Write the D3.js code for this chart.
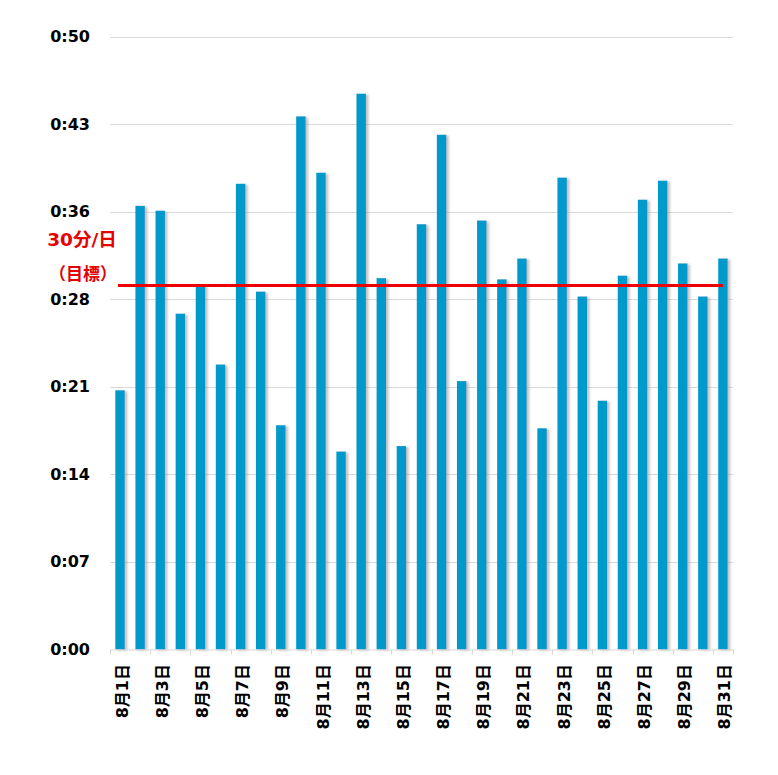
<!DOCTYPE html>
<html>
<head>
<meta charset="utf-8">
<script src="https://cdn.jsdelivr.net/npm/d3@7"></script>
<style>
  html, body { margin: 0; padding: 0; background: #fff; }
  svg { display: block; font-family: "DejaVu Sans", "Noto Sans CJK JP", sans-serif; }
</style>
</head>
<body>
<svg id="chart" width="778" height="775"></svg>
<script>
// Data
const days = d3.range(1, 32).map(d => "8月" + d + "日");
const minutes = [21.15, 36.2, 35.8, 27.4, 29.7, 23.25, 38.0, 29.2, 18.3, 43.5,
                 38.9, 16.15, 45.35, 30.3, 16.6, 34.7, 42.0, 21.9, 35.0, 30.2,
                 31.9, 18.05, 38.5, 28.8, 20.3, 30.5, 36.7, 38.25, 31.5, 28.8, 31.9];
const targetMinutes = 29.7;
const yTickValues = d3.range(0, 8).map(i => i * 50 / 7);
const yTickLabels = ["0:00", "0:07", "0:14", "0:21", "0:28", "0:36", "0:43", "0:50"];
const xLabelDays = days.filter((d, i) => i % 2 === 0);
const targetLabel = ["30分/日", "（目標）"];

const svg = d3.select("#chart");
const mLeft = 110, mRight = 733, mTop = 36.7, mBottom = 649.5;

const x = d3.scaleBand().domain(days).range([mLeft, mRight]).paddingInner(0.53).paddingOuter(0.265);
const xc = d => x(d) + x.bandwidth() / 2;
const y = d3.scaleLinear().domain([0, 50]).range([mBottom, mTop]);

// shadow filter
const defs = svg.append("defs");
const f = defs.append("filter").attr("id", "shadow").attr("x", "-50%").attr("y", "-5%").attr("width", "200%").attr("height", "110%");
f.append("feDropShadow").attr("dx", 2.5).attr("dy", 1).attr("stdDeviation", 1)
  .attr("flood-color", "#999999").attr("flood-opacity", 0.6);

// gridlines
svg.append("g").selectAll("line").data(yTickValues.slice(1)).join("line")
  .attr("x1", mLeft).attr("x2", mRight)
  .attr("y1", d => Math.round(y(d)) + 0.5).attr("y2", d => Math.round(y(d)) + 0.5)
  .attr("stroke", "#d9d9d9").attr("stroke-width", 1);

// y labels
svg.append("g").selectAll("text").data(yTickValues).join("text")
  .attr("x", 90).attr("y", d => y(d))
  .attr("text-anchor", "end").attr("dominant-baseline", "central")
  .attr("font-size", 16).attr("font-weight", "bold").attr("fill", "#000")
  .text((d, i) => yTickLabels[i]);

// bars
svg.append("g").selectAll("rect").data(minutes).join("rect")
  .attr("x", (d, i) => x(days[i]))
  .attr("y", d => y(d))
  .attr("width", x.bandwidth())
  .attr("height", d => y(0) - y(d))
  .attr("fill", "#0099cb")
  .attr("filter", "url(#shadow)");

// x axis line and ticks
const axisG = svg.append("g");
axisG.append("line").attr("x1", mLeft).attr("x2", mRight)
  .attr("y1", mBottom + 0.5).attr("y2", mBottom + 0.5)
  .attr("stroke", "#d9d9d9");
const tickPos = d3.range(0, 17).map(i => Math.min(mLeft + i * 2 * x.step(), mRight));
axisG.selectAll("line.tk").data(tickPos).join("line").attr("class", "tk")
  .attr("x1", d => Math.round(d) + 0.5).attr("x2", d => Math.round(d) + 0.5)
  .attr("y1", mBottom).attr("y2", mBottom + 5)
  .attr("stroke", "#d9d9d9");

// x labels
svg.append("g").selectAll("text").data(xLabelDays).join("text")
  .attr("transform", d => `translate(${xc(d) + 2},664) rotate(-90)`)
  .attr("text-anchor", "end").attr("dominant-baseline", "central")
  .attr("font-size", 16).attr("font-weight", "bold").attr("fill", "#000")
  .text(d => d);

// target line
svg.append("line")
  .attr("x1", xc(days[0]) - 2).attr("x2", xc(days[30]))
  .attr("y1", y(targetMinutes)).attr("y2", y(targetMinutes))
  .attr("stroke", "#ee0000").attr("stroke-width", 3);

// target label
svg.append("g").selectAll("text").data(targetLabel).join("text")
  .attr("x", (d, i) => i === 0 ? 82 : 83)
  .attr("y", (d, i) => i === 0 ? 239 : 274)
  .attr("text-anchor", "middle").attr("dominant-baseline", "central")
  .attr("font-size", (d, i) => i === 0 ? 18.5 : 17)
  .attr("font-weight", "bold").attr("fill", "#e60000")
  .text(d => d);
</script>
</body>
</html>
